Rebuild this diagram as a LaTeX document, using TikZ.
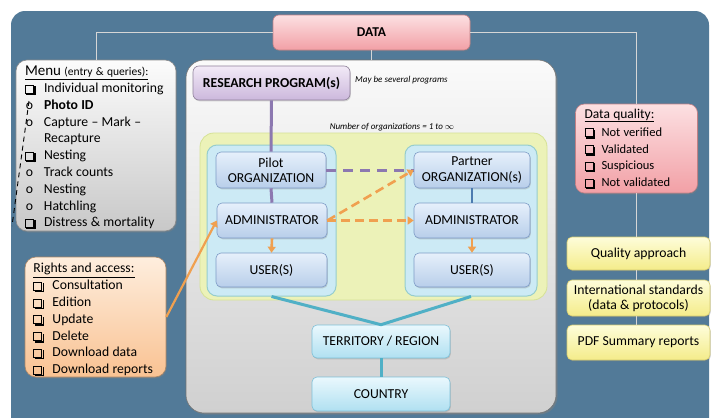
\documentclass[tikz,border=0pt]{standalone}
\usepackage{fontspec}
\setmainfont{Carlito}
\usetikzlibrary{arrows.meta,shadows,calc}

\definecolor{panelblue}{RGB}{82,122,152}
\definecolor{menutop}{RGB}{252,252,252}
\definecolor{menubot}{RGB}{200,200,200}
\definecolor{righttop}{RGB}{254,238,222}
\definecolor{rightbot}{RGB}{249,194,146}
\definecolor{datatop}{RGB}{252,224,226}
\definecolor{databot}{RGB}{242,160,166}
\definecolor{restop}{RGB}{242,234,247}
\definecolor{resbot}{RGB}{204,184,220}
\definecolor{orgtop}{RGB}{230,240,251}
\definecolor{orgbot}{RGB}{184,206,234}
\definecolor{orgline}{RGB}{125,155,198}
\definecolor{ygfill}{RGB}{236,242,184}
\definecolor{ygline}{RGB}{214,226,150}
\definecolor{cyanfill}{RGB}{204,234,245}
\definecolor{cyanline}{RGB}{150,205,205}
\definecolor{terrtop}{RGB}{234,248,253}
\definecolor{terrbot}{RGB}{176,224,241}
\definecolor{terrline}{RGB}{125,192,216}
\definecolor{yeltop}{RGB}{254,253,218}
\definecolor{yelbot}{RGB}{244,236,138}
\definecolor{yelline}{RGB}{212,202,112}
\definecolor{centtop}{RGB}{250,250,250}
\definecolor{centbot}{RGB}{208,208,208}
\definecolor{purpleconn}{RGB}{140,120,176}
\definecolor{orangeconn}{RGB}{240,160,80}
\definecolor{tealconn}{RGB}{80,176,198}
\definecolor{blueconn}{RGB}{76,123,176}
\definecolor{greyconn}{RGB}{214,214,214}

% shadowed check-box bullet built from rules
\newcommand\chk{{\setlength\fboxsep{0pt}\setlength\fboxrule{1pt}%
  \rlap{\hspace{9pt}\rule[-2.5pt]{1.5pt}{9pt}}%
  \rlap{\hspace{1.5pt}\rule[-2.5pt]{9pt}{1.5pt}}%
  \fbox{\rule{0pt}{7pt}\hspace{7pt}}\hspace{1.5pt}}}
\newcommand\listfont{\fontsize{13.7}{16.8}\selectfont}
\newcommand\dqfont{\fontsize{12.5}{16.8}\selectfont}
% move a block down without changing its reported size
\newcommand\lowerby[2]{\raisebox{-#1}[\height][\depth]{#2}}

\tikzset{
  lbl/.style={font=\fontsize{13.7}{15.3}\selectfont, align=center, inner sep=0pt},
  card/.style={lbl, rounded corners=5pt, line width=0.6pt,
    drop shadow={shadow xshift=0.8pt, shadow yshift=-1.3pt, opacity=0.3}},
  orgbox/.style={card, draw=orgline, top color=orgtop, bottom color=orgbot},
  terrbox/.style={card, draw=terrline, top color=terrtop, bottom color=terrbot},
  yelbox/.style={card, draw=yelline, top color=yeltop, bottom color=yelbot},
  listbox/.style={rounded corners=11pt, line width=0.6pt, align=left,
    drop shadow={shadow xshift=1pt, shadow yshift=-1.5pt, opacity=0.35}},
  purpleline/.style={purpleconn, line width=3pt},
  orangearrow/.style={orangeconn, line width=2.6pt, -{Triangle[length=6pt,width=8pt]}},
  orangedash/.style={orangearrow, dash pattern=on 9pt off 5pt},
  tealline/.style={tealconn, line width=3pt},
  greyline/.style={greyconn, line width=1pt},
  note/.style={font=\fontsize{9}{10}\selectfont\itshape, inner sep=0pt},
}

\begin{document}
\begin{tikzpicture}[x=1pt,y=-1pt]
\useasboundingbox (0,0) rectangle (716,418);
\clip (0,0) rectangle (716,418);
\fill[white] (0,0) rectangle (716,418);

% dark backdrop
\fill[panelblue, rounded corners=14pt] (11,440) -- (11,11) -- (709,11) -- (709,440) -- cycle;

% central workspace
\node[rounded corners=18pt, draw=black!55, line width=0.6pt,
      top color=centtop, bottom color=centbot,
      minimum width=370pt, minimum height=353pt,
      drop shadow={shadow xshift=1.5pt, shadow yshift=-1.5pt, opacity=0.5}]
  (central) at (371,236.5) {};

% organizations area
\node[rounded corners=14pt, draw=ygline, line width=0.8pt, fill=ygfill,
      minimum width=347pt, minimum height=167pt] (orgs) at (373.5,216.5) {};
\node[rounded corners=10pt, draw=cyanline, line width=1pt, fill=cyanfill,
      minimum width=129pt, minimum height=151pt] (cL) at (271.5,220.5) {};
\node[rounded corners=10pt, draw=cyanline, line width=1pt, fill=cyanfill,
      minimum width=132pt, minimum height=151pt] (cR) at (471,220.5) {};

% top data node
\node[card, font=\fontsize{13.5}{15}\selectfont\bfseries, rounded corners=6pt,
      draw=databot!80!black, top color=datatop, bottom color=databot,
      minimum width=197pt, minimum height=35pt] (data) at (371.5,32.5) {DATA};

% menu panel
\node[listbox, draw=black!45, top color=menutop, bottom color=menubot,
      text width=142pt, inner xsep=9pt, inner ysep=0pt,
      minimum width=160pt, minimum height=171pt] (menu) at (96,145.5)
  {\listfont\lowerby{2.5pt}{%
   \begin{tabular}{@{}c@{\hspace{10pt}}l@{}}
   \multicolumn{2}{@{}l@{}}{\underline{{\fontsize{15}{15}\selectfont Menu} {\fontsize{11.5}{11.5}\selectfont (entry \& queries):}}}\\
   \chk & Individual monitoring\\
   o & \textbf{Photo ID}\\
   o & Capture – Mark –\\
     & Recapture\\
   \chk & Nesting\\
   o & Track counts\\
   o & Nesting\\
   o & Hatchling\\
   \chk & Distress \& mortality
   \end{tabular}}};

% rights panel
\node[listbox, draw=rightbot!70!black, top color=righttop, bottom color=rightbot,
      text width=124pt, inner xsep=8pt, inner ysep=0pt,
      minimum width=141pt, minimum height=120pt] (rights) at (95.5,317)
  {\listfont\lowerby{3pt}{%
   \begin{tabular}{@{}c@{\hspace{10pt}}l@{}}
   \multicolumn{2}{@{}l@{}}{\underline{Rights and access:}}\\
   \chk & Consultation\\
   \chk & Edition\\
   \chk & Update\\
   \chk & Delete\\
   \chk & Download data\\
   \chk & Download reports
   \end{tabular}}};

% data quality panel
\node[listbox, rounded corners=9pt, draw=databot!80!black, top color=datatop, bottom color=databot,
      text width=104pt, inner xsep=9pt, inner ysep=0pt,
      minimum width=117pt, minimum height=89pt] (dq) at (636.5,148.5)
  {\dqfont\lowerby{0.5pt}{%
   \begin{tabular}{@{}c@{\hspace{8pt}}l@{}}
   \multicolumn{2}{@{}l@{}}{\underline{\fontsize{13.5}{13.5}\selectfont Data quality:}}\\[1.5pt]
   \chk & Not verified\\
   \chk & Validated\\
   \chk & Suspicious\\
   \chk & Not validated
   \end{tabular}}};

% quality tools
\node[yelbox, minimum width=143pt, minimum height=33pt] (qa) at (638.5,253.5) {Quality approach};
\node[yelbox, minimum width=143pt, minimum height=36pt] (intl) at (638.5,298) {International standards\\(data \& protocols)};
\node[yelbox, minimum width=143pt, minimum height=35pt] (pdf) at (638.5,342.5) {PDF Summary reports};

% research program
\node[card, font=\fontsize{13.7}{15}\selectfont\bfseries, rounded corners=6pt,
      draw=resbot!70!black, top color=restop, bottom color=resbot,
      minimum width=157pt, minimum height=34pt] (research) at (271.5,83) {RESEARCH PROGRAM(s)};
\node[note, anchor=west] (several) at (355,80) {May be several programs};
\node[note] (numorg) at (392,127) {Number of organizations = 1 to $\infty$};

% organization blocks
\node[orgbox, minimum width=110pt, minimum height=36pt] (pilot) at (271,170) {Pilot\\ORGANIZATION};
\node[orgbox, minimum width=110pt, minimum height=35pt] (admL) at (272,220.5) {ADMINISTRATOR};
\node[orgbox, minimum width=111pt, minimum height=34pt] (userL) at (271.5,270) {USER(S)};
\node[orgbox, minimum width=116pt, minimum height=36pt] (partner) at (472,170) {Partner\\ORGANIZATION(s)};
\node[orgbox, minimum width=116pt, minimum height=35pt] (admR) at (472,220.5) {ADMINISTRATOR};
\node[orgbox, minimum width=116pt, minimum height=34pt] (userR) at (472,270) {USER(S)};

% geography
\node[terrbox, minimum width=138pt, minimum height=33pt] (terr) at (381,341.5) {TERRITORY / REGION};
\node[terrbox, minimum width=138pt, minimum height=34pt] (country) at (381,394) {COUNTRY};

% grey links from DATA
\draw[greyline] (data.west) -| (menu.north);
\draw[greyline] (data.east) -| (dq.north);
\draw[greyline] (data.south) -- (data.south |- central.north);
\draw[greyline] (dq.south) -- (dq.south |- qa.north);
\draw[greyline] (dq.south |- qa.south) -- (dq.south |- intl.north);
\draw[greyline] (dq.south |- intl.south) -- (dq.south |- pdf.north);

% hierarchy links
\draw[purpleline] (research.south) -- (pilot.north);
\draw[purpleline] (pilot.south) -- (admL.north);
\draw[purpleline, dash pattern=on 10pt off 7pt] (pilot.east) -- (partner.west);
\draw[blueconn, line width=2.5pt] (partner.south) -- (admR.north);
\draw[orangearrow] (admL.south) -- (userL.north);
\draw[orangearrow] (admR.south) -- (userR.north);
\draw[orangedash] (admL.east) -- (partner.west);
\draw[orangedash] (admL.east) -- (admR.west);
\draw[orangearrow, line width=2.2pt] (rights.east) -- (admL.west);
\draw[tealline, line join=round] (cL.south) -- (terr.north) -- (cR.south);
\draw[tealline] (terr.south) -- (country.north);

% dashed trace across the menu
\coordinate (tr1) at (29,101);
\coordinate (tr2) at (12,226);
\draw[black, line width=0.9pt, dash pattern=on 5pt off 4pt] (tr1) -- (tr2);
\end{tikzpicture}
\end{document}
